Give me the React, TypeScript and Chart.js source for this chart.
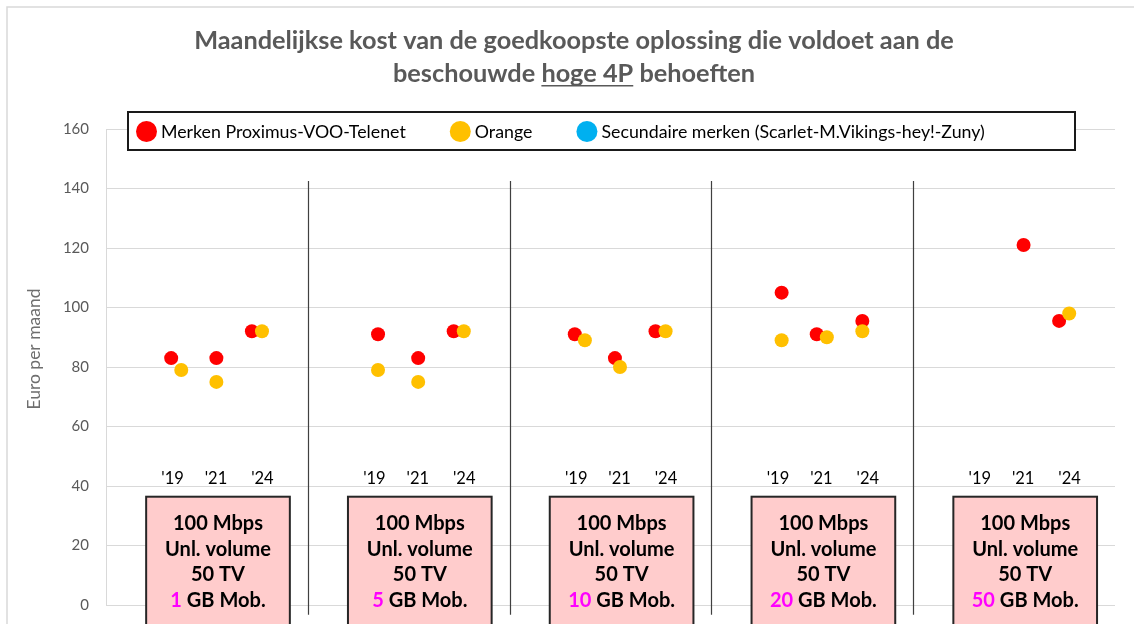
import React, { useEffect, useRef } from 'react';
import { Chart, registerables } from 'chart.js';

Chart.register(...registerables);

// ---------- data ----------
const titleLine1 = 'Maandelijkse kost van de goedkoopste oplossing die voldoet aan de';
const titleLine2 = ['beschouwde ', 'hoge 4P', ' behoeften'];
const axisTitle = 'Euro per maand';
const seriesNames = ['Merken Proximus-VOO-Telenet', 'Orange', 'Secundaire merken (Scarlet-M.Vikings-hey!-Zuny)'];
const seriesColors = ['#FF0000', '#FFC000', '#00B0F0'];
const yearLabels = ["'19", "'21", "'24"];
const mobileGB = ['1', '5', '10', '20', '50'];
const boxLines = ['100 Mbps', 'Unl. volume', '50 TV'];
const boxSuffix = ' GB Mob.';
const yTickMax = 160;
const yTickStep = 20;

// values per group (1, 5, 10, 20, 50 GB) and per year ('19, '21, '24)
const proximusValues = [
  [83, 83, 92],
  [91, 83, 92],
  [91, 83, 92],
  [105, 91, 95.5],
  [null, 121, 95.5],
];
const orangeValues = [
  [79, 75, 92],
  [79, 75, 92],
  [89, 80, 92],
  [89, 90, 92],
  [null, null, 98],
];
const secondaryValues = [
  [null, null, null],
  [null, null, null],
  [null, null, null],
  [null, null, null],
  [null, null, null],
];
// side-shift of overlapping markers (-1 left, +1 right)
const proximusDodge = [
  [-1, 0, -1],
  [0, 0, -1],
  [-1, -1, -1],
  [0, -1, 0],
  [0, 0, -1],
];
const orangeDodge = [
  [1, 0, 1],
  [0, 0, 1],
  [1, 0, 1],
  [0, 1, 0],
  [0, 0, 1],
];

// ---------- layout constants ----------
const W = 1134;
const H = 624;
const FONT = 'Lato, "Open Sans", sans-serif';
const YEAR_SLOT = [0.348, 0.547, 0.748];
const LABEL_SLOT = [0.33, 0.545, 0.775];
const DODGE = 0.025;
const BOX_CENTER = 0.555;
const BOX_HALF = 0.356;

function fitSize(ctx: CanvasRenderingContext2D, text: string, weight: string, base: number, target: number) {
  ctx.font = `${weight} ${base}px ${FONT}`;
  const w = ctx.measureText(text).width;
  return (base * target) / w;
}

const overlayPlugin = {
  id: 'overlay',
  afterDraw(chart: any) {
    const ctx: CanvasRenderingContext2D = chart.ctx;
    const xs = chart.scales.x;
    const ys = chart.scales.y;
    ctx.save();

    // outer frame (top + left)
    ctx.strokeStyle = '#D9D9D9';
    ctx.lineWidth = 1.5;
    ctx.beginPath();
    ctx.moveTo(7, chart.height);
    ctx.lineTo(7, 7);
    ctx.lineTo(chart.width, 7);
    ctx.stroke();

    // title
    const tSize = fitSize(ctx, titleLine1, 'bold', 22, 760);
    ctx.font = `bold ${tSize}px ${FONT}`;
    ctx.fillStyle = '#595959';
    ctx.textBaseline = 'alphabetic';
    ctx.textAlign = 'center';
    const cx = 574;
    ctx.fillText(titleLine1, cx, 49);
    ctx.textAlign = 'left';
    const parts = titleLine2.map((p) => ctx.measureText(p).width);
    const total = parts.reduce((a, b) => a + b, 0);
    let px = cx - total / 2;
    titleLine2.forEach((p, i) => {
      ctx.fillText(p, px, 82);
      if (i === 1) {
        ctx.fillRect(px, 85, parts[i], 1.5);
      }
      px += parts[i];
    });

    // legend
    ctx.fillStyle = '#FFFFFF';
    ctx.fillRect(128, 112, 947, 38);
    ctx.strokeStyle = '#1A1A1A';
    ctx.lineWidth = 2;
    ctx.strokeRect(128, 112, 947, 38);
    const lSize = fitSize(ctx, seriesNames[0], 'normal', 15, 245);
    ctx.font = `${lSize}px ${FONT}`;
    ctx.textBaseline = 'middle';
    ctx.textAlign = 'left';
    let lx = 136;
    seriesNames.forEach((name, i) => {
      ctx.fillStyle = seriesColors[i];
      ctx.beginPath();
      ctx.arc(lx + 10.5, 131.5, 10.5, 0, Math.PI * 2);
      ctx.fill();
      ctx.fillStyle = '#000000';
      ctx.fillText(name, lx + 25, 132);
      lx += 25 + ctx.measureText(name).width + 44;
    });

    // axis title
    ctx.save();
    ctx.translate(34, 349);
    ctx.rotate(-Math.PI / 2);
    ctx.font = `17.5px ${FONT}`;
    ctx.fillStyle = '#6E6E6E';
    ctx.textAlign = 'center';
    ctx.textBaseline = 'middle';
    ctx.fillText(axisTitle, 0, 0);
    ctx.restore();

    // separators
    ctx.strokeStyle = '#404040';
    ctx.lineWidth = 1.2;
    for (let g = 1; g < mobileGB.length; g++) {
      const x = Math.round(xs.getPixelForValue(g)) + 0.5;
      ctx.beginPath();
      ctx.moveTo(x, ys.getPixelForValue(142.5));
      ctx.lineTo(x, ys.getPixelForValue(-3.3));
      ctx.stroke();
    }

    // year labels
    ctx.font = `16.5px ${FONT}`;
    ctx.fillStyle = '#000000';
    ctx.textAlign = 'center';
    ctx.textBaseline = 'alphabetic';
    mobileGB.forEach((_, g) => {
      yearLabels.forEach((lab, yi) => {
        ctx.fillText(lab, xs.getPixelForValue(g + LABEL_SLOT[yi]), ys.getPixelForValue(40.8));
      });
    });

    // boxes
    const bSize = fitSize(ctx, boxLines[1], 'bold', 18, 106);
    mobileGB.forEach((gb, g) => {
      const l = xs.getPixelForValue(g + BOX_CENTER - BOX_HALF);
      const r = xs.getPixelForValue(g + BOX_CENTER + BOX_HALF);
      const top = ys.getPixelForValue(36.4);
      const bottom = chart.height + 10;
      ctx.fillStyle = '#FFCCCC';
      ctx.fillRect(l, top, r - l, bottom - top);
      ctx.strokeStyle = '#262626';
      ctx.lineWidth = 2;
      ctx.strokeRect(l, top, r - l, bottom - top);
      const mx = (l + r) / 2;
      ctx.font = `bold ${bSize}px ${FONT}`;
      ctx.textBaseline = 'alphabetic';
      ctx.textAlign = 'center';
      ctx.fillStyle = '#000000';
      boxLines.forEach((line, i) => {
        ctx.fillText(line, mx, top + 33 + i * 25.8);
      });
      const wNum = ctx.measureText(gb).width;
      const wSuf = ctx.measureText(boxSuffix).width;
      const sx = mx - (wNum + wSuf) / 2;
      ctx.textAlign = 'left';
      ctx.fillStyle = '#FF00FF';
      ctx.fillText(gb, sx, top + 33 + 3 * 25.8);
      ctx.fillStyle = '#000000';
      ctx.fillText(boxSuffix, sx + wNum, top + 33 + 3 * 25.8);
    });

    ctx.restore();
  },
};

function makePoints(values: (number | null)[][], dodge: number[][]) {
  const pts: { x: number; y: number }[] = [];
  values.forEach((row, g) => {
    row.forEach((v, yi) => {
      if (v === null || v === undefined) return;
      pts.push({ x: g + YEAR_SLOT[yi] + dodge[g][yi] * DODGE, y: v });
    });
  });
  return pts;
}

export default function App() {
  const ref = useRef<HTMLCanvasElement | null>(null);

  useEffect(() => {
    if (!ref.current) return;
    const zero = secondaryValues.map((r) => r.map(() => 0));
    const chart = new Chart(ref.current, {
      type: 'scatter',
      data: {
        datasets: [
          {
            label: seriesNames[0],
            data: makePoints(proximusValues, proximusDodge),
            backgroundColor: seriesColors[0],
            borderColor: seriesColors[0],
            borderWidth: 0,
            pointRadius: 7,
            pointHoverRadius: 7,
            order: 2,
          },
          {
            label: seriesNames[1],
            data: makePoints(orangeValues, orangeDodge),
            backgroundColor: seriesColors[1],
            borderColor: seriesColors[1],
            borderWidth: 0,
            pointRadius: 7,
            pointHoverRadius: 7,
            order: 1,
          },
          {
            label: seriesNames[2],
            data: makePoints(secondaryValues, zero),
            backgroundColor: seriesColors[2],
            borderColor: seriesColors[2],
            borderWidth: 0,
            pointRadius: 7,
            order: 3,
          },
        ],
      },
      options: {
        animation: false,
        responsive: false,
        devicePixelRatio: 1,
        events: [],
        layout: { padding: { top: 129, right: 19, bottom: 19, left: 0 } },
        plugins: {
          legend: { display: false },
          tooltip: { enabled: false },
          title: { display: false },
        },
        scales: {
          x: {
            type: 'linear',
            min: 0,
            max: mobileGB.length,
            display: false,
          },
          y: {
            min: 0,
            max: yTickMax,
            afterFit: (scale: any) => {
              scale.width = 106;
              scale.paddingTop = 0;
              scale.paddingBottom = 0;
            },
            border: { display: true, color: '#D9D9D9', width: 1 },
            grid: { color: '#D9D9D9', lineWidth: 1, drawTicks: false },
            ticks: {
              stepSize: yTickStep,
              padding: 17,
              color: '#595959',
              font: { family: FONT, size: 15 },
            },
          },
        },
      },
      plugins: [overlayPlugin],
    });
    return () => chart.destroy();
  }, []);

  return (
    <div style={{ position: 'fixed', left: 0, top: 0, width: W, height: H, background: '#fff' }}>
      <canvas ref={ref} width={W} height={H} style={{ display: 'block', width: W, height: H }} />
    </div>
  );
}
